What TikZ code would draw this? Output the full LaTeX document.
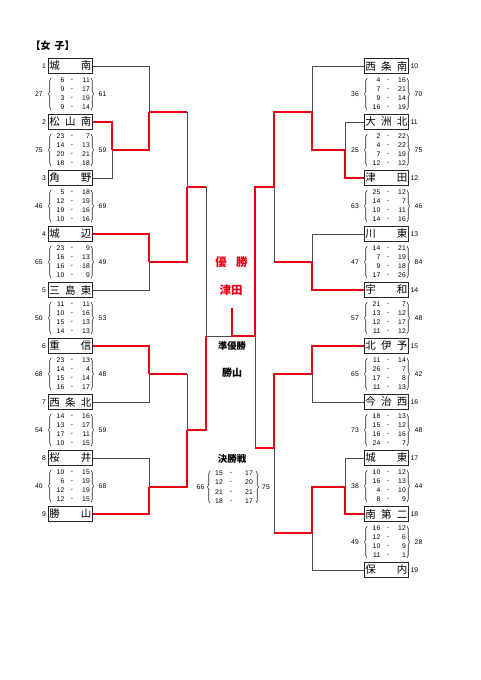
\documentclass[tikz,border=0pt]{standalone}
\usepackage{fontspec}
\setmainfont{Liberation Sans}
\newfontfamily\jp{Noto Sans CJK JP}
\usetikzlibrary{decorations.pathreplacing}
\definecolor{rd}{RGB}{235,0,20}
\newcommand\twoch[2]{\makebox[42pt]{#1\hspace{\fill}#2}}
\newcommand\threech[3]{\makebox[42pt]{#1\hspace{\fill}#2\hspace{\fill}#3}}
\begin{document}
\begin{tikzpicture}[x=1pt,y=-1pt,
  team/.style={draw=black!85, line width=0.8pt, minimum width=44.5pt, minimum height=15pt, inner sep=0pt, font=\jp\fontsize{10.5}{10.5}\selectfont},
  num/.style={inner sep=0pt, font=\fontsize{6.8}{7}\selectfont},
  gl/.style={draw=black!70, line width=0.9pt},
  rl/.style={draw=rd, line width=2.2pt},
  brc/.style={draw=black!85, line width=0.6pt, decorate, decoration={brace, amplitude=2.5pt}},
]
\useasboundingbox (0,0) rectangle (481,680);

\node[font=\jp\bfseries\fontsize{10}{10}\selectfont, anchor=west] (title) at (27,46) {【女\hspace{0.4em}子】};

% left teams
\node[team] (t1) at (70.25,66) {\twoch{城}{南}};
\node[team] (t2) at (70.25,122) {\threech{松}{山}{南}};
\node[team] (t3) at (70.25,178) {\twoch{角}{野}};
\node[team] (t4) at (70.25,234) {\twoch{城}{辺}};
\node[team] (t5) at (70.25,290) {\threech{三}{島}{東}};
\node[team] (t6) at (70.25,346) {\twoch{重}{信}};
\node[team] (t7) at (70.25,402) {\threech{西}{条}{北}};
\node[team] (t8) at (70.25,458) {\twoch{桜}{井}};
\node[team] (t9) at (70.25,514) {\twoch{勝}{山}};
\foreach \n [count=\k from 0] in {1,...,9}{
  \node[num, anchor=east] (n\n) at (46,66+56*\k) {\n};
}
% right teams
\node[team] (t10) at (386.25,66) {\threech{西}{条}{南}};
\node[team] (t11) at (386.25,122) {\threech{大}{洲}{北}};
\node[team] (t12) at (386.25,178) {\twoch{津}{田}};
\node[team] (t13) at (386.25,234) {\twoch{川}{東}};
\node[team] (t14) at (386.25,290) {\twoch{宇}{和}};
\node[team] (t15) at (386.25,346) {\threech{北}{伊}{予}};
\node[team] (t16) at (386.25,402) {\threech{今}{治}{西}};
\node[team] (t17) at (386.25,458) {\twoch{城}{東}};
\node[team] (t18) at (386.25,514) {\threech{南}{第}{二}};
\node[team] (t19) at (386.25,570) {\twoch{保}{内}};
\foreach \n [count=\k from 0] in {10,...,19}{
  \node[num, anchor=west] (n\n) at (410.5,66+56*\k) {\n};
}

% score blocks
\foreach \bx/\ym/\L/\R/\sc in {
  48/94/27/61/{6/11,9/17,3/19,9/14},
  48/150/75/59/{23/7,14/13,20/21,18/18},
  48/206/46/69/{5/18,12/19,19/16,10/16},
  48/262/65/49/{23/9,16/13,16/18,10/9},
  48/318/50/53/{11/11,10/16,15/13,14/13},
  48/374/68/48/{23/13,14/4,15/14,16/17},
  48/430/54/59/{14/16,13/17,17/11,10/15},
  48/486/40/68/{10/15,6/19,12/19,12/15},
  364/94/36/70/{4/16,7/21,9/14,16/19},
  364/150/25/75/{2/22,4/22,7/19,12/12},
  364/206/63/46/{25/12,14/7,10/11,14/16},
  364/262/47/84/{14/21,7/19,9/18,17/26},
  364/318/57/48/{21/7,13/12,12/17,11/12},
  364/374/65/42/{11/14,26/7,17/8,11/13},
  364/430/73/48/{18/13,15/12,16/16,24/7},
  364/486/38/44/{10/12,16/13,4/10,8/9},
  364/542/49/28/{16/12,12/6,10/9,11/1}}{
  \node[num] (sl-\bx-\ym) at (\bx-9,\ym) {\L};
  \node[num] (sr-\bx-\ym) at (\bx+54.5,\ym) {\R};
  \draw[brc] (\bx+3,\ym+16) -- (\bx+3,\ym-16);
  \draw[brc] (\bx+43,\ym-16) -- (\bx+43,\ym+16);
  \foreach \a/\b [count=\i from 0] in \sc {
    \node[num, anchor=east] (sa-\bx-\ym-\i) at (\bx+16.5,\ym-13.5+9*\i) {\a};
    \node[num] (sd-\bx-\ym-\i) at (\bx+24,\ym-13.5+9*\i) {-};
    \node[num, anchor=east] (sb-\bx-\ym-\i) at (\bx+42,\ym-13.5+9*\i) {\b};
  }
}

% junction coordinates, left
\coordinate (a23) at (112,150);
\coordinate (b1) at (149,112);
\coordinate (b45) at (149,262);
\coordinate (c1) at (187,187);
\coordinate (b67) at (149,374);
\coordinate (b89) at (149,487);
\coordinate (c2) at (187,430);
\coordinate (fl) at (206,336);
\coordinate (fr) at (255,336);
\coordinate (champ) at (232,336);
\coordinate (champtop) at (232,308);
% right
\coordinate (a1112) at (345,150);
\coordinate (b10) at (312,112);
\coordinate (b1314) at (312,262);
\coordinate (c3) at (274,187);
\coordinate (b1516) at (312,374);
\coordinate (a1718) at (345,487);
\coordinate (b19) at (312,533);
\coordinate (c4) at (274,448);

% grey lines (left)
\draw[gl] (t3.east) -| (a23);
\draw[gl] (t1.east) -| (b1);
\draw[gl] (t5.east) -| (b45);
\draw[gl] (b1 -| c1) -- (c1);
\draw[gl] (c1 -| fl) -- (fl);
\draw[gl] (t7.east) -| (b67);
\draw[gl] (t8.east) -| (b89);
\draw[gl] (b67 -| c2) -- (c2);
\draw[gl] (fl) -- (champ);
% grey lines (right)
\draw[gl] (t11.west) -| (a1112);
\draw[gl] (t10.west) -| (b10);
\draw[gl] (t13.west) -| (b1314);
\draw[gl] (b1314 -| c3) -- (c3);
\draw[gl] (t16.west) -| (b1516);
\draw[gl] (t17.west) -| (a1718);
\draw[gl] (t19.west) -| (b19);
\draw[gl] (b19 -| c4) -- (c4);
\draw[gl] (c4 -| fr) -- (fr);

% red lines (left)
\draw[rl] (t2.east) -| (a23);
\draw[rl] (a23) -| (b1);
\draw[rl] (t4.east) -| (b45);
\draw[rl] (b1) -- (b1 -| c1);
\draw[rl] (b45) -| (c1);
\draw[rl] (c1) -- (c1 -| fl);
\draw[rl] (t6.east) -| (b67);
\draw[rl] (t9.east) -| (b89);
\draw[rl] (b67) -- (b67 -| c2);
\draw[rl] (b89) -| (c2);
\draw[rl] (c2) -| (fl);
\draw[rl] (champtop) |- (fr);
% red lines (right)
\draw[rl] (t12.west) -| (a1112);
\draw[rl] (a1112) -| (b10);
\draw[rl] (t14.west) -| (b1314);
\draw[rl] (b10) -| (c3);
\draw[rl] (b1314) -- (b1314 -| c3);
\draw[rl] (c3) -| (fr);
\draw[rl] (t15.west) -| (b1516);
\draw[rl] (t18.west) -| (a1718);
\draw[rl] (a1718) -| (b19);
\draw[rl] (b1516) -| (c4);
\draw[rl] (b19) -- (b19 -| c4);
\draw[rl] (c4) -- (c4 -| fr);

% centre labels
\node[font=\jp\bfseries\fontsize{11.5}{11.5}\selectfont, text=rd] (yu) at (231.5,262) {優\hspace{0.8em}勝};
\node[font=\jp\bfseries\fontsize{11.5}{11.5}\selectfont, text=rd] (yuT) at (231,290) {津田};
\node[font=\jp\bfseries\fontsize{9.3}{9.3}\selectfont] (jun) at (232,346) {準優勝};
\node[font=\jp\bfseries\fontsize{10}{10}\selectfont] (junT) at (232,373) {勝山};
\node[font=\jp\bfseries\fontsize{9.5}{9.5}\selectfont] (kes) at (232,459) {決勝戦};

% final score
\node[num] (fL) at (200.5,487) {66};
\node[num] (fR) at (266,487) {75};
\draw[brc] (210,503) -- (210,471);
\draw[brc] (256,471) -- (256,503);
\foreach \a/\b [count=\i from 0] in {15/17,12/20,21/21,18/17}{
  \node[num, anchor=east] (fa\i) at (223,473+9.5*\i) {\a};
  \node[num] (fd\i) at (231,473+9.5*\i) {-};
  \node[num, anchor=east] (fb\i) at (253,473+9.5*\i) {\b};
}
\end{tikzpicture}
\end{document}
